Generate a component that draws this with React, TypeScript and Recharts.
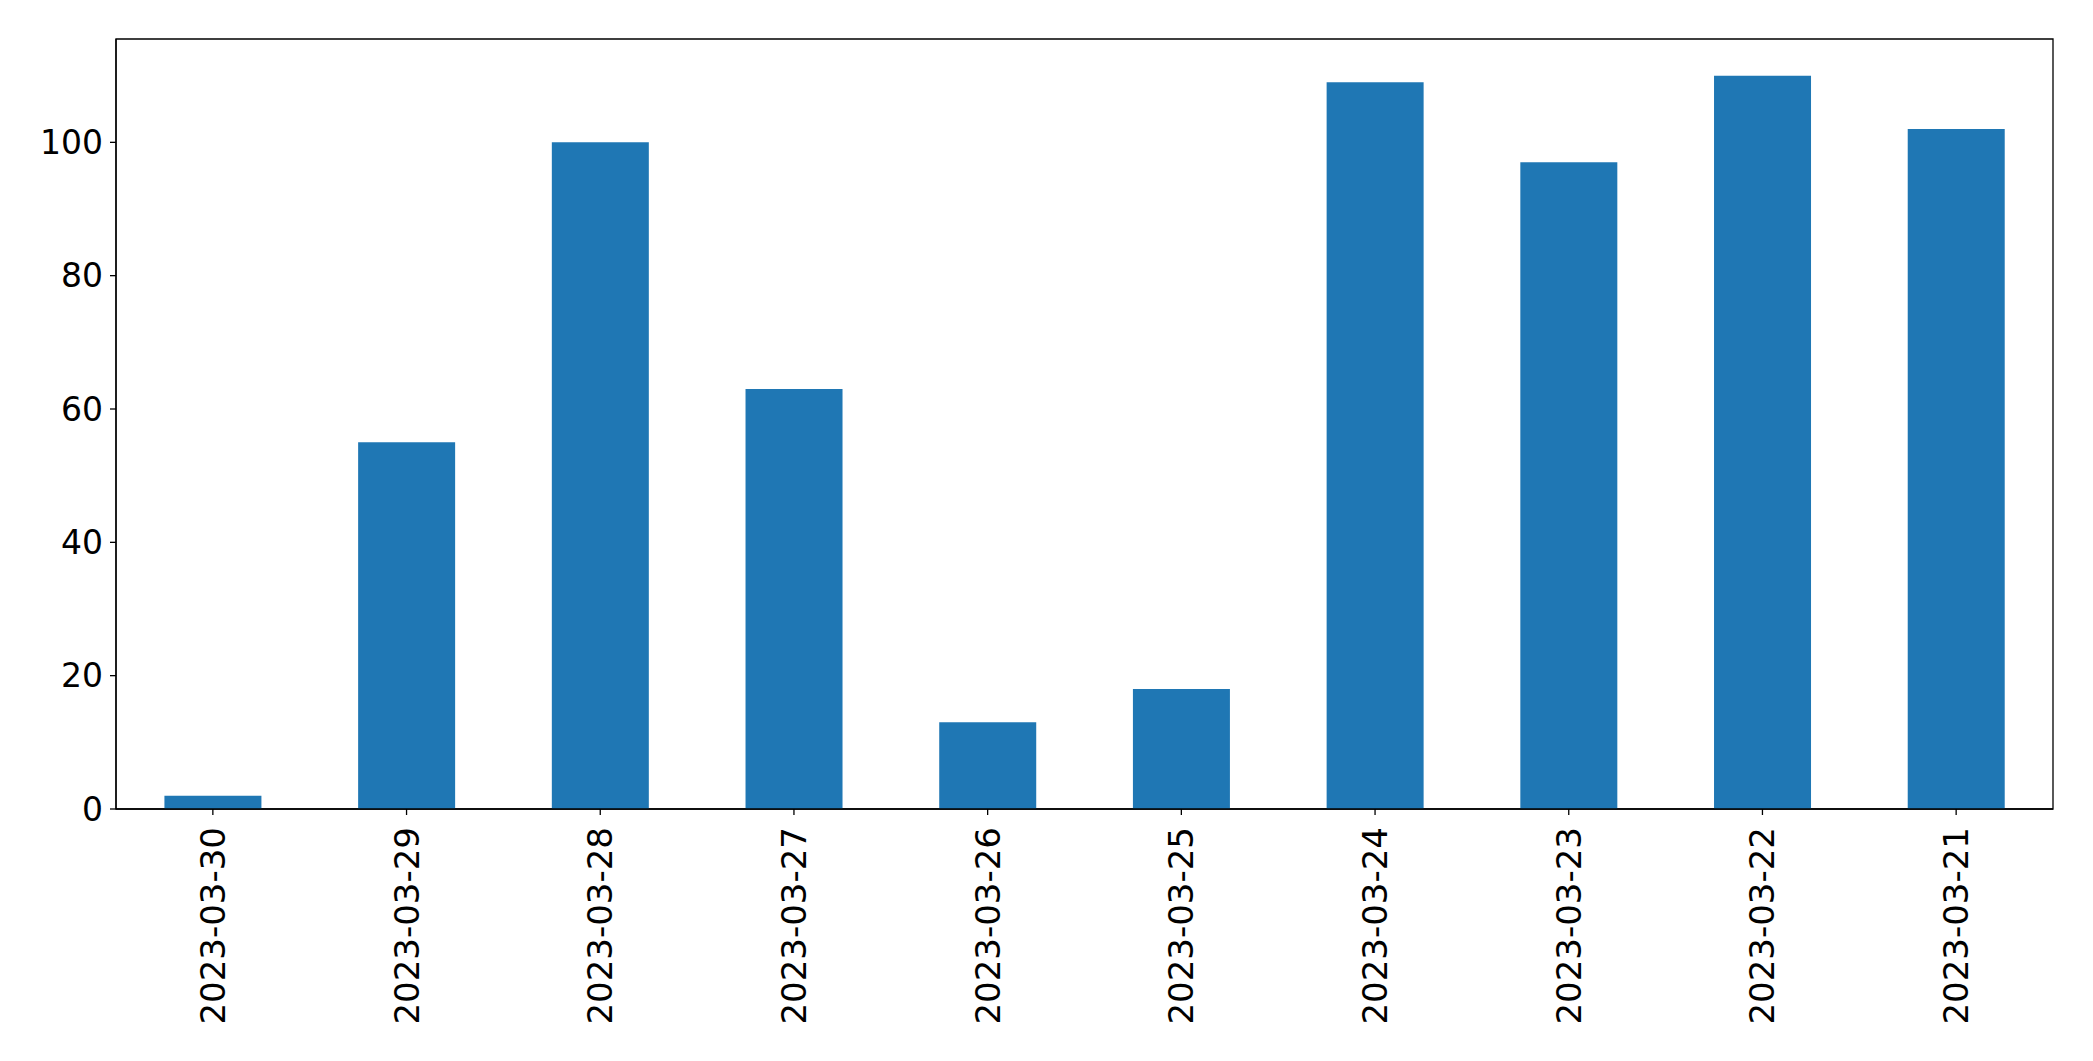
import { Bar, BarChart, ReferenceArea, XAxis, YAxis } from "recharts";

const dates = [
  "2023-03-30",
  "2023-03-29",
  "2023-03-28",
  "2023-03-27",
  "2023-03-26",
  "2023-03-25",
  "2023-03-24",
  "2023-03-23",
  "2023-03-22",
  "2023-03-21",
];
const counts = [2, 55, 100, 63, 13, 18, 109, 97, 110, 102];
const yTicks = [0, 20, 40, 60, 80, 100];
const yMax = 115.5;

const barColor = "#1f77b4";
const fontFamily = "DejaVu Sans, sans-serif";

const data = dates.map((date, i) => ({ date, count: counts[i] }));

document.body.style.margin = "0";

function DateTick({ x, y, payload }: { x: number; y: number; payload: { value: string } }) {
  return (
    <text
      x={x}
      y={y}
      transform={`rotate(-90 ${x} ${y})`}
      textAnchor="end"
      dominantBaseline="central"
      fontSize={34}
      fontFamily={fontFamily}
      fill="#000"
    >
      {payload.value}
    </text>
  );
}

export default function App() {
  return (
    <BarChart
      width={2093}
      height={1061}
      data={data}
      margin={{ top: 39, right: 40, bottom: 0, left: 0 }}
      barCategoryGap="25%"
    >
      <XAxis
        dataKey="date"
        height={252}
        interval={0}
        stroke="#000"
        strokeWidth={1.3}
        tickSize={6}
        tickMargin={12}
        tick={DateTick}
      />
      <YAxis
        width={116}
        domain={[0, yMax]}
        ticks={yTicks}
        interval={0}
        stroke="#000"
        strokeWidth={1.3}
        tickSize={6}
        tickMargin={7}
        tick={{ fontSize: 33, fontFamily, fill: "#000" }}
      />
      <Bar dataKey="count" fill={barColor} isAnimationActive={false} />
      {/* frame around the plot area */}
      <ReferenceArea y1={0} y2={yMax} fill="none" stroke="#000" strokeWidth={1.3} />
    </BarChart>
  );
}
